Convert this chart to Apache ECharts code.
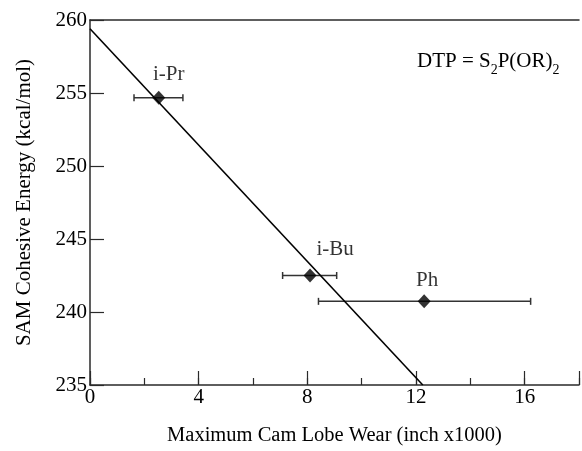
<!DOCTYPE html>
<html>
<head>
<meta charset="utf-8">
<script src="https://cdn.jsdelivr.net/npm/echarts@6/dist/echarts.min.js"></script>
<style>
html,body{margin:0;padding:0;background:#fff;}
#chart{width:582px;height:451px;}
</style>
</head>
<body>
<div id="chart"></div>
<script>
// ---- data ----
const names = ['i-Pr', 'i-Bu', 'Ph'];
const wear = [2.53, 8.10, 12.30];
const energy = [254.67, 242.5, 240.73];
const wearLow = [1.62, 7.09, 8.41];
const wearHigh = [3.42, 9.08, 16.22];
const fitX = [0, 12.25];
const fitY = [259.4, 235];

// ---- style (label offsets in px) ----
const labelOffsets = [[10, -23], [25, -26], [3, -21]];
const FONT = '"Liberation Serif", "Times New Roman", serif';
const FS = 21;
const AX = '#2a2a2a';

const chart = echarts.init(document.getElementById('chart'), null, {renderer: 'canvas'});

const xBase = {type: 'value', min: 0, max: 18, gridIndex: 0};

const option = {
  animation: false,
  backgroundColor: '#fff',
  grid: {left: 90, right: 0, top: 20, bottom: 59, containLabel: false},
  title: {
    left: 417, top: 51, padding: 0,
    text: '{a|DTP = S}{s|2}{a|P(OR)}{s|2}',
    textStyle: {
      rich: {
        a: {fontFamily: FONT, fontSize: FS, lineHeight: 21, color: '#000', fontWeight: 'normal', verticalAlign: 'top'},
        s: {fontFamily: FONT, fontSize: 14, lineHeight: 14, color: '#000', fontWeight: 'normal', padding: [12, 0, 0, 0], verticalAlign: 'top'}
      }
    }
  },
  xAxis: [
    Object.assign({}, xBase, {
      position: 'bottom', interval: 4,
      name: 'Maximum Cam Lobe Wear (inch x1000)',
      nameLocation: 'middle', nameGap: 40,
      nameTextStyle: {fontFamily: FONT, fontSize: 20.5, color: '#000'},
      axisLine: {show: true, lineStyle: {color: AX, width: 1.5}},
      axisTick: {show: true, inside: true, length: 14, lineStyle: {color: AX, width: 1.2}},
      axisLabel: {
        fontFamily: FONT, fontSize: FS, color: '#000', margin: 2,
        formatter: v => (v % 4 === 0 && v <= 16) ? String(v) : ''
      },
      splitLine: {show: false}
    }),
    Object.assign({}, xBase, {
      position: 'bottom', interval: 2,
      axisLine: {show: false},
      axisTick: {show: true, inside: true, length: 7, lineStyle: {color: AX, width: 1.2}},
      axisLabel: {show: false},
      splitLine: {show: false}
    }),
    Object.assign({}, xBase, {
      position: 'top', interval: 2,
      axisLine: {show: true, lineStyle: {color: AX, width: 1.5}},
      axisTick: {show: false},
      axisLabel: {show: false},
      splitLine: {show: false}
    })
  ],
  yAxis: {
    type: 'value', min: 235, max: 260, interval: 5,
    name: 'SAM Cohesive Energy (kcal/mol)',
    nameLocation: 'middle', nameGap: 55,
    nameTextStyle: {fontFamily: FONT, fontSize: FS, color: '#000'},
    axisLine: {show: true, lineStyle: {color: AX, width: 1.5}},
    axisTick: {show: true, inside: true, length: 14, lineStyle: {color: AX, width: 1.2}},
    axisLabel: {fontFamily: FONT, fontSize: FS, color: '#000', margin: 3},
    splitLine: {show: false}
  },
  series: [
    {
      type: 'line',
      xAxisIndex: 0,
      data: fitX.map((x, i) => [x, fitY[i]]),
      symbol: 'none',
      lineStyle: {color: '#000', width: 1.6},
      z: 3
    },
    {
      type: 'custom',
      xAxisIndex: 0,
      data: names.map((n, i) => [wearLow[i], wearHigh[i], energy[i]]),
      encode: {x: [0, 1], y: 2},
      renderItem: function (params, api) {
        const y = api.value(2);
        const lo = api.coord([api.value(0), y]);
        const hi = api.coord([api.value(1), y]);
        const cap = 3.5;
        const st = {stroke: '#333', lineWidth: 1.5};
        return {
          type: 'group',
          children: [
            {type: 'line', shape: {x1: lo[0], y1: lo[1], x2: hi[0], y2: hi[1]}, style: st},
            {type: 'line', shape: {x1: lo[0], y1: lo[1] - cap, x2: lo[0], y2: lo[1] + cap}, style: st},
            {type: 'line', shape: {x1: hi[0], y1: hi[1] - cap, x2: hi[0], y2: hi[1] + cap}, style: st}
          ]
        };
      },
      z: 2
    },
    {
      type: 'scatter',
      xAxisIndex: 0,
      symbol: 'diamond',
      symbolSize: [13, 14],
      itemStyle: {color: '#000'},
      data: names.map((n, i) => ({
        name: n,
        value: [wear[i], energy[i]],
        label: {
          show: true, position: 'inside', offset: labelOffsets[i],
          formatter: n, fontFamily: FONT, fontSize: FS, color: '#000'
        }
      })),
      z: 4
    }
  ]
};

chart.setOption(option);
</script>
</body>
</html>
